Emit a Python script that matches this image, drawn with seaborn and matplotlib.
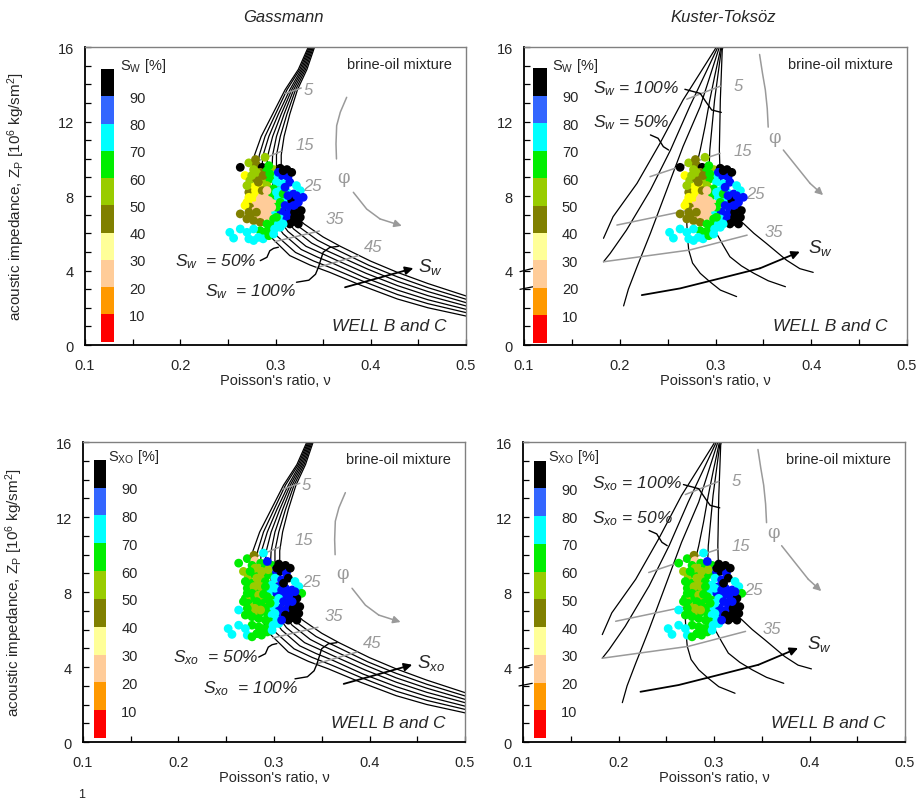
import numpy as np
import pandas as pd
import matplotlib
matplotlib.use('Agg')
import matplotlib.pyplot as plt
import seaborn as sns
from matplotlib.colors import ListedColormap, BoundaryNorm
from matplotlib.cm import ScalarMappable
from matplotlib.ticker import MultipleLocator

sns.set_style('ticks')
plt.rcParams['font.family'] = ['Liberation Sans', 'DejaVu Sans']
plt.rcParams['mathtext.fontset'] = 'custom'
plt.rcParams['mathtext.rm'] = 'Liberation Sans'
plt.rcParams['mathtext.it'] = 'Liberation Sans:italic'
plt.rcParams['mathtext.bf'] = 'Liberation Sans:bold'

# ---------------- data: well log points ----------------
poisson = [0.263, 0.272, 0.279, 0.280, 0.289, 0.286, 0.277, 0.268, 0.284, 0.291,
           0.298, 0.305, 0.312, 0.306, 0.313, 0.299, 0.273, 0.280, 0.287, 0.294,
           0.301, 0.308, 0.315, 0.322, 0.277, 0.284, 0.291, 0.298, 0.305, 0.312,
           0.319, 0.326, 0.329, 0.272, 0.279, 0.286, 0.291, 0.296, 0.303, 0.310,
           0.317, 0.324, 0.270, 0.275, 0.280, 0.287, 0.293, 0.298, 0.305, 0.310,
           0.315, 0.322, 0.327, 0.263, 0.273, 0.279, 0.284, 0.289, 0.294, 0.299,
           0.306, 0.313, 0.320, 0.326, 0.275, 0.282, 0.287, 0.293, 0.298, 0.305,
           0.312, 0.319, 0.324, 0.277, 0.284, 0.291, 0.296, 0.303, 0.284, 0.289,
           0.294, 0.299, 0.305, 0.252, 0.256, 0.263, 0.272, 0.277, 0.277, 0.282,
           0.287, 0.270, 0.293, 0.298, 0.280, 0.275, 0.287, 0.294, 0.282, 0.279,
           0.286, 0.291, 0.301, 0.308, 0.277, 0.284, 0.289, 0.301, 0.282, 0.291,
           0.286, 0.280, 0.296, 0.272, 0.268, 0.322, 0.319, 0.310, 0.303, 0.308,
           0.317, 0.293, 0.270, 0.272, 0.270, 0.315, 0.308, 0.301, 0.320, 0.313]
impedance = [9.54, 9.78, 9.96, 9.67, 10.08, 9.54, 9.42, 9.10, 9.27, 9.36,
             9.42, 9.49, 9.42, 9.10, 9.01, 9.10, 8.83, 8.92, 8.83, 8.92,
             8.74, 8.65, 8.74, 8.56, 8.47, 8.47, 8.56, 8.38, 8.29, 8.20,
             8.11, 8.29, 7.93, 8.20, 8.06, 8.02, 8.11, 8.02, 7.93, 7.84,
             7.75, 7.66, 7.66, 7.75, 7.66, 7.66, 7.75, 7.57, 7.66, 7.49,
             7.40, 7.40, 7.22, 7.04, 7.40, 7.22, 7.31, 7.40, 7.22, 7.13,
             7.13, 7.04, 7.13, 6.86, 6.95, 6.86, 6.95, 6.86, 6.77, 6.77,
             6.77, 6.63, 6.50, 6.68, 6.59, 6.50, 6.41, 6.50, 6.14, 6.05,
             6.14, 6.23, 6.32, 6.05, 5.74, 6.23, 5.70, 5.61, 6.23, 5.78,
             5.70, 6.05, 5.87, 5.96, 9.27, 9.10, 9.10, 9.19, 8.74, 8.29,
             8.29, 8.29, 8.20, 8.11, 7.93, 7.84, 7.88, 7.40, 7.49, 7.13,
             7.04, 7.13, 7.40, 7.93, 7.49, 8.02, 7.49, 8.47, 9.27, 9.36,
             9.27, 9.63, 8.56, 7.13, 6.77, 6.50, 6.50, 6.86, 6.86, 8.02]
sw_class = [95, 55, 45, 45, 55, 95, 55, 35, 45, 65,
            55, 95, 95, 85, 85, 75, 55, 45, 55, 65,
            75, 75, 85, 75, 35, 35, 55, 65, 75, 75,
            85, 75, 85, 45, 35, 25, 25, 65, 75, 75,
            95, 85, 35, 35, 25, 25, 25, 25, 65, 85,
            85, 85, 95, 45, 45, 25, 25, 25, 25, 75,
            85, 85, 95, 95, 45, 25, 25, 25, 65, 75,
            85, 95, 95, 45, 45, 65, 65, 75, 65, 65,
            65, 75, 75, 75, 75, 75, 75, 75, 75, 75,
            75, 75, 65, 75, 55, 55, 45, 65, 45, 35,
            45, 25, 75, 65, 35, 25, 25, 65, 25, 25,
            25, 45, 25, 35, 35, 85, 85, 85, 85, 95,
            95, 65, 55, 45, 45, 95, 75, 65, 95, 85]
sxo_class = [65, 65, 45, 25, 75, 65, 65, 55, 55, 65,
             65, 95, 95, 95, 85, 85, 55, 65, 55, 65,
             75, 85, 95, 75, 65, 55, 65, 75, 85, 85,
             85, 75, 65, 65, 55, 65, 65, 75, 85, 85,
             85, 95, 65, 55, 65, 55, 65, 65, 75, 85,
             85, 95, 95, 75, 65, 55, 65, 65, 55, 75,
             85, 85, 95, 95, 65, 55, 65, 65, 75, 85,
             95, 95, 95, 65, 65, 65, 65, 75, 65, 65,
             65, 75, 75, 75, 75, 75, 75, 65, 65, 65,
             65, 75, 65, 75, 55, 65, 55, 55, 55, 55,
             55, 65, 75, 85, 65, 55, 65, 75, 65, 65,
             55, 55, 65, 65, 65, 85, 85, 95, 95, 95,
             95, 85, 65, 65, 65, 95, 85, 75, 95, 85]

point_palette = {95: '#000000', 85: '#0010ff', 75: '#00ffff', 65: '#00ee00',
                 55: '#99cc00', 45: '#808000', 35: '#ffff00', 25: '#ffcc99',
                 15: '#ff9900', 5: '#ff0000'}
legend_colors = ['#ff0000', '#ff9900', '#ffcc99', '#ffff99', '#808000',
                 '#99cc00', '#00ee00', '#00ffff', '#3366ff', '#000000']
legend_bounds = [0, 10, 20, 30, 40, 50, 60, 70, 80, 90, 100]
legend_ticks = [10, 20, 30, 40, 50, 60, 70, 80, 90]

# ---------------- Gassmann model curves (Sw = 50% ... 100%) ----------------
gass_curve_nu = [
    [0.337, 0.324, 0.310, 0.297, 0.285, 0.278, 0.275, 0.277, 0.284, 0.297, 0.315, 0.336, 0.357, 0.390, 0.428, 0.460, 0.505],
    [0.338, 0.3255, 0.312, 0.300, 0.289, 0.283, 0.280, 0.282, 0.290, 0.302, 0.321, 0.340, 0.359, 0.392, 0.428, 0.460, 0.505],
    [0.339, 0.327, 0.315, 0.303, 0.293, 0.287, 0.285, 0.288, 0.295, 0.308, 0.327, 0.344, 0.361, 0.393, 0.428, 0.460, 0.505],
    [0.340, 0.3285, 0.317, 0.306, 0.297, 0.292, 0.290, 0.293, 0.301, 0.313, 0.332, 0.348, 0.362, 0.395, 0.428, 0.460, 0.505],
    [0.341, 0.330, 0.319, 0.309, 0.301, 0.297, 0.296, 0.298, 0.307, 0.319, 0.338, 0.351, 0.364, 0.397, 0.428, 0.460, 0.505],
    [0.342, 0.3315, 0.321, 0.312, 0.305, 0.301, 0.301, 0.304, 0.312, 0.324, 0.344, 0.355, 0.366, 0.398, 0.428, 0.460, 0.505],
    [0.343, 0.333, 0.323, 0.315, 0.309, 0.306, 0.306, 0.309, 0.318, 0.330, 0.350, 0.359, 0.368, 0.400, 0.428, 0.460, 0.505]]
gass_curve_zp = [
    [16.3, 14.8, 13.7, 12.4, 11.2, 10.2, 9.2, 8.0, 6.80, 5.70, 4.80, 4.30, 3.90, 3.20, 2.47, 2.00, 1.50],
    [16.3, 14.8, 13.7, 12.4, 11.2, 10.2, 9.2, 8.0, 6.85, 5.83, 4.97, 4.51, 4.13, 3.42, 2.71, 2.22, 1.68],
    [16.3, 14.8, 13.7, 12.4, 11.2, 10.2, 9.2, 8.0, 6.90, 5.97, 5.13, 4.72, 4.37, 3.63, 2.95, 2.43, 1.85],
    [16.3, 14.8, 13.7, 12.4, 11.2, 10.2, 9.2, 8.0, 6.95, 6.10, 5.30, 4.93, 4.60, 3.85, 3.19, 2.65, 2.03],
    [16.3, 14.8, 13.7, 12.4, 11.2, 10.2, 9.2, 8.0, 7.00, 6.23, 5.47, 5.13, 4.83, 4.07, 3.42, 2.87, 2.20],
    [16.3, 14.8, 13.7, 12.4, 11.2, 10.2, 9.2, 8.0, 7.05, 6.37, 5.63, 5.34, 5.07, 4.28, 3.66, 3.08, 2.38],
    [16.3, 14.8, 13.7, 12.4, 11.2, 10.2, 9.2, 8.0, 7.10, 6.50, 5.80, 5.55, 5.30, 4.50, 3.90, 3.30, 2.55]]
gass_phi_line_nu = [[0.310, 0.327], [0.280, 0.306], [0.278, 0.312], [0.299, 0.346], [0.343, 0.387]]
gass_phi_line_zp = [[13.50, 13.80], [9.85, 10.40], [8.20, 8.60], [5.55, 6.12], [4.15, 4.80]]
gass_phi_text = ['5', '15', '25', '35', '45']
gass_phi_text_nu = [0.334, 0.331, 0.339, 0.3625, 0.403]
gass_phi_text_zp = [13.71, 10.79, 8.55, 6.77, 5.30]
gass_arc1_nu = [0.3747, 0.368, 0.3642, 0.3635, 0.3640]
gass_arc1_zp = [13.3, 12.5, 11.78, 10.8, 9.99]
gass_arc2_nu = [0.3817, 0.3957, 0.4097, 0.4325]
gass_arc2_zp = [8.2, 7.3, 6.77, 6.4]
gass_phi_sym = (0.3712, 9.0)
gass_lead50_nu = [0.284, 0.291, 0.294, 0.298, 0.303]
gass_lead50_zp = [4.53, 4.71, 5.06, 5.19, 5.25]
gass_lead100_nu = [0.322, 0.335, 0.342, 0.345, 0.350, 0.357, 0.366]
gass_lead100_zp = [3.37, 3.48, 3.80, 4.17, 4.98, 5.24, 5.30]
gass_label50 = (0.1945, 4.53)
gass_label100 = (0.226, 2.92)
gass_arrow_nu = [0.373, 0.4447]
gass_arrow_zp = [3.10, 4.12]
gass_arrow_label = (0.450, 4.26)

# ---------------- Kuster-Toksoz model curves ----------------
kt_curve_nu = [
    [0.304, 0.299, 0.266, 0.242, 0.218, 0.193, 0.183],
    [0.305, 0.301, 0.273, 0.253, 0.232, 0.207, 0.190, 0.183],
    [0.306, 0.303, 0.284, 0.266, 0.249, 0.232, 0.218, 0.209, 0.204],
    [0.307, 0.305, 0.299, 0.294, 0.289, 0.284, 0.279, 0.273, 0.271, 0.270, 0.271, 0.272, 0.276, 0.284, 0.294, 0.305, 0.322],
    [0.308, 0.306, 0.299, 0.294, 0.2925, 0.294, 0.301, 0.308, 0.315, 0.327, 0.340, 0.355, 0.373],
    [0.309, 0.307, 0.305, 0.304, 0.305, 0.312, 0.329, 0.340, 0.353, 0.374, 0.388, 0.402]]
kt_curve_zp = [
    [16.3, 15.84, 13.15, 10.83, 8.68, 6.89, 5.73],
    [16.3, 15.84, 12.80, 10.47, 8.32, 6.17, 4.92, 4.47],
    [16.3, 15.84, 12.80, 10.65, 8.32, 6.00, 4.20, 3.00, 2.10],
    [16.3, 15.84, 14.41, 13.15, 11.72, 10.47, 9.40, 8.32, 7.43, 6.53, 5.64, 5.10, 4.40, 3.85, 3.40, 2.95, 2.60],
    [16.3, 15.84, 13.15, 10.47, 8.32, 6.53, 6.00, 5.35, 4.74, 4.25, 3.85, 3.45, 3.13],
    [16.3, 15.84, 13.15, 10.47, 8.68, 7.25, 6.53, 6.00, 5.46, 4.56, 4.10, 3.90]]
kt_phi_line_nu = [[0.270, 0.305], [0.2316, 0.3047], [0.197, 0.273, 0.305], [0.183, 0.273, 0.333]]
kt_phi_line_zp = [[13.20, 13.90], [9.04, 10.29], [6.44, 7.25, 7.60], [4.47, 5.10, 5.90]]
kt_phi_text = ['5', '15', '25', '35']
kt_phi_text_nu = [0.3238, 0.3284, 0.3413, 0.3604]
kt_phi_text_zp = [13.96, 10.47, 8.14, 6.08]
kt_arc1_nu = [0.346, 0.349, 0.352, 0.354, 0.355]
kt_arc1_zp = [15.6, 14.6, 13.7, 12.7, 11.7]
kt_arc2_nu = [0.3708, 0.3848, 0.3987, 0.4123]
kt_arc2_zp = [10.47, 9.57, 8.68, 8.05]
kt_phi_sym = (0.362, 11.18)
kt_lead100_nu = [0.268, 0.284, 0.291, 0.296, 0.306]
kt_lead100_zp = [13.73, 13.51, 12.98, 12.62, 12.49]
kt_lead50_nu = [0.232, 0.240, 0.2455, 0.251]
kt_lead50_zp = [11.28, 11.10, 10.65, 10.47]
kt_label100 = (0.1724, 13.84)
kt_label50 = (0.1724, 11.99)
kt_arrow_nu = [0.223, 0.263, 0.305, 0.3465, 0.388]
kt_arrow_zp = [2.68, 3.04, 3.58, 4.12, 5.01]
kt_arrow_label = (0.397, 5.28)
kt_stray_nu = [[0.0958, 0.1097], [0.0958, 0.1097]]
kt_stray_zp = [[3.94, 4.12], [2.99, 3.13]]

GRAY = '#9a9a9a'
YLABEL = 'acoustic impedance, Z$_\\mathregular{P}$ [10$^\\mathregular{6}$ kg/sm$^\\mathregular{2}$]'

fig = plt.figure(figsize=(9.19, 8.03), dpi=100)
panel_specs = [
    dict(rect=[0.0925, 0.5691, 0.4146, 0.3711], model='gass', sat=sw_class,
         cbname='W', sub='w', arrowsub='w', cb=[0.041, 0.011, 0.035, 0.915], cbl=(0.092, 0.94), ylab=True),
    dict(rect=[0.5702, 0.5691, 0.4168, 0.3711], model='kt', sat=sw_class,
         cbname='W', sub='w', arrowsub='w', cb=[0.024, 0.008, 0.035, 0.92], cbl=(0.072, 0.94), ylab=False),
    dict(rect=[0.0903, 0.0747, 0.4157, 0.3736], model='gass', sat=sxo_class,
         cbname='XO', sub='xo', arrowsub='xo', cb=[0.029, 0.013, 0.031, 0.928], cbl=(0.066, 0.955), ylab=True),
    dict(rect=[0.5691, 0.0747, 0.4157, 0.3736], model='kt', sat=sxo_class,
         cbname='XO', sub='xo', arrowsub='w', cb=[0.029, 0.013, 0.031, 0.925], cbl=(0.065, 0.955), ylab=False),
]

cmap = ListedColormap(legend_colors)
norm = BoundaryNorm(legend_bounds, cmap.N)

for spec in panel_specs:
    ax = fig.add_axes(spec['rect'])

    sub = spec['sub']
    if spec['model'] == 'gass':
        for cx, cy in zip(gass_curve_nu, gass_curve_zp):
            ax.plot(cx, cy, color='black', lw=0.9, zorder=1)
        for lx, ly in zip(gass_phi_line_nu, gass_phi_line_zp):
            ax.plot(lx, ly, color=GRAY, lw=1.1, zorder=1.5)
        for t, tx, ty in zip(gass_phi_text, gass_phi_text_nu, gass_phi_text_zp):
            ax.text(tx, ty, t, color=GRAY, fontsize=12, style='italic', ha='center', va='center')
        arc1 = (gass_arc1_nu, gass_arc1_zp); arc2 = (gass_arc2_nu, gass_arc2_zp)
        phis = gass_phi_sym
        leads = [(gass_lead50_nu, gass_lead50_zp), (gass_lead100_nu, gass_lead100_zp)]
        ax.text(gass_label50[0], gass_label50[1], '$S_{%s}$  = 50%%' % sub, fontsize=12.5,
                style='italic', ha='left', va='center')
        ax.text(gass_label100[0], gass_label100[1], '$S_{%s}$  = 100%%' % sub, fontsize=12.5,
                style='italic', ha='left', va='center')
        arr = (gass_arrow_nu, gass_arrow_zp)
        arrlab = gass_arrow_label
    else:
        for cx, cy in zip(kt_curve_nu, kt_curve_zp):
            ax.plot(cx, cy, color='black', lw=0.9, zorder=1)
        for sx, sy in zip(kt_stray_nu, kt_stray_zp):
            ax.plot(sx, sy, color='black', lw=0.9, clip_on=False)
        for lx, ly in zip(kt_phi_line_nu, kt_phi_line_zp):
            ax.plot(lx, ly, color=GRAY, lw=1.1, zorder=1.5)
        for t, tx, ty in zip(kt_phi_text, kt_phi_text_nu, kt_phi_text_zp):
            ax.text(tx, ty, t, color=GRAY, fontsize=12, style='italic', ha='center', va='center')
        arc1 = (kt_arc1_nu, kt_arc1_zp); arc2 = (kt_arc2_nu, kt_arc2_zp)
        phis = kt_phi_sym
        leads = [(kt_lead50_nu, kt_lead50_zp), (kt_lead100_nu, kt_lead100_zp)]
        ax.text(kt_label100[0], kt_label100[1], '$S_{%s}$ = 100%%' % sub, fontsize=12.5,
                style='italic', ha='left', va='center')
        ax.text(kt_label50[0], kt_label50[1], '$S_{%s}$ = 50%%' % sub, fontsize=12.5,
                style='italic', ha='left', va='center')
        arr = (kt_arrow_nu, kt_arrow_zp)
        arrlab = kt_arrow_label

    # porosity arrow
    ax.plot(arc1[0], arc1[1], color=GRAY, lw=1.1)
    ax.plot(arc2[0][:-1], arc2[1][:-1], color=GRAY, lw=1.1)
    ax.annotate('', xy=(arc2[0][-1], arc2[1][-1]), xytext=(arc2[0][-2], arc2[1][-2]),
                arrowprops=dict(arrowstyle='-|>', color=GRAY, lw=1.1, mutation_scale=11,
                                shrinkA=0, shrinkB=0))
    ax.text(phis[0], phis[1], 'φ', color=GRAY, fontsize=13, family='DejaVu Serif',
            ha='center', va='center')
    for lx, ly in leads:
        ax.plot(lx, ly, color='black', lw=1.0)
    # saturation arrow
    if len(arr[0]) > 2:
        ax.plot(arr[0][:-1], arr[1][:-1], color='black', lw=1.3)
    ax.annotate('', xy=(arr[0][-1], arr[1][-1]), xytext=(arr[0][-2], arr[1][-2]),
                arrowprops=dict(arrowstyle='-|>', color='black', lw=1.3, mutation_scale=12,
                                shrinkA=0, shrinkB=0))
    ax.text(arrlab[0], arrlab[1], '$S_{%s}$' % spec['arrowsub'], fontsize=13.5,
            ha='left', va='center')

    # scatter points
    df = pd.DataFrame({'nu': poisson, 'zp': impedance, 'sat': spec['sat']})
    sns.scatterplot(data=df, x='nu', y='zp', hue='sat', palette=point_palette,
                    s=40, linewidth=0, legend=False, ax=ax, zorder=3)

    ax.set_xlim(0.1, 0.5)
    ax.set_ylim(0, 16)
    ax.xaxis.set_major_locator(MultipleLocator(0.1))
    ax.xaxis.set_minor_locator(MultipleLocator(0.05))
    ax.yaxis.set_major_locator(MultipleLocator(4))
    ax.yaxis.set_minor_locator(MultipleLocator(1))
    ax.tick_params(which='both', direction='in', length=4, width=0.9, color='black',
                   top=False, right=False, labelsize=10.5)
    ax.tick_params(axis='x', which='both', pad=9)
    ax.tick_params(axis='y', which='both', pad=8)
    for side in ['left', 'bottom']:
        ax.spines[side].set_color('black')
        ax.spines[side].set_linewidth(1.3)
    for side in ['top', 'right']:
        ax.spines[side].set_color('#808080')
        ax.spines[side].set_linewidth(1.0)
    ax.set_xlabel("Poisson's ratio, ν", fontsize=10.5, labelpad=1)
    if spec['ylab']:
        ax.set_ylabel(YLABEL, fontsize=11)
        ax.yaxis.set_label_coords(-0.152, 0.5)
    else:
        ax.set_ylabel('')

    ax.text(0.963, 0.943, 'brine-oil mixture', transform=ax.transAxes, fontsize=10.5,
            ha='right', va='center')
    ax.text(0.95, 0.066, 'WELL B and C', transform=ax.transAxes, fontsize=12.5,
            style='italic', ha='right', va='center')

    # discrete saturation legend bar
    cax = ax.inset_axes(spec['cb'])
    cb = fig.colorbar(ScalarMappable(norm=norm, cmap=cmap), cax=cax, ticks=legend_ticks)
    cb.outline.set_visible(False)
    cax.minorticks_off()
    cax.tick_params(which='both', length=0, labelsize=10.5, pad=11)
    ax.text(spec['cbl'][0], spec['cbl'][1], 'S$_\\mathregular{%s}$ [%%]' % spec['cbname'],
            transform=ax.transAxes, fontsize=10.5, ha='left', va='center')

fig.text(283 / 919, 1 - 18 / 803, 'Gassmann', style='italic', fontsize=12, ha='center', va='center')
fig.text(723 / 919, 1 - 18 / 803, 'Kuster-Toksöz', style='italic', fontsize=12, ha='center', va='center')
fig.text(82 / 919, 1 - 795 / 803, '1', fontsize=9, ha='center', va='center')

fig.savefig('out.png', dpi=100)
